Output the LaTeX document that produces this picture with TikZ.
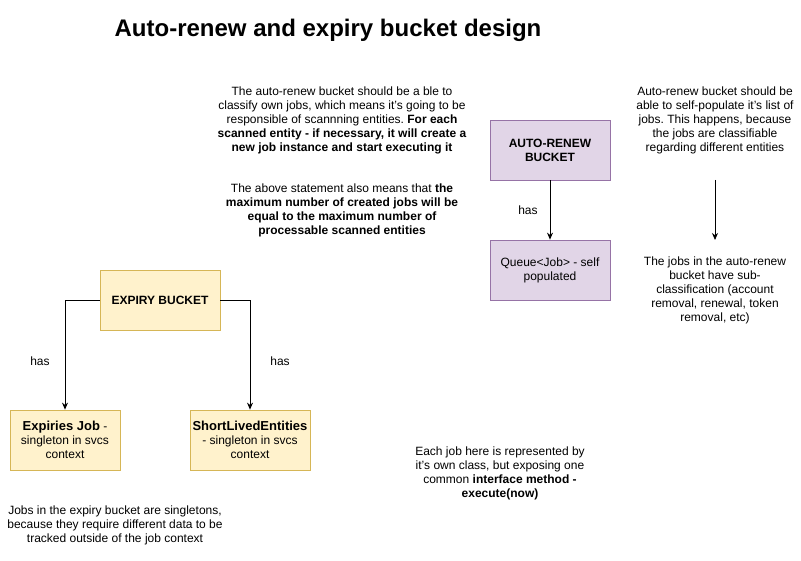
\documentclass[tikz,border=0pt]{standalone}
\usepackage{fontspec}
\setmainfont{Liberation Sans}
\usetikzlibrary{arrows.meta}
\frenchspacing
\begin{document}
\begin{tikzpicture}[x=1pt,y=-1pt,
  every node/.style={font=\fontsize{12}{14}\selectfont, align=center, inner sep=0pt},
  purplebox/.style={draw=pborder, line width=0.75pt, fill={rgb,255:red,225;green,213;blue,231}, minimum width=120pt, minimum height=60pt},
  yellowbox/.style={draw={rgb,255:red,214;green,182;blue,86}, line width=0.75pt, fill={rgb,255:red,255;green,242;blue,204}},
  conn/.style={-{Stealth[length=7pt,width=6pt]}, line width=0.8pt},
  lbl/.style={font=\fontsize{12}{14}\selectfont}]
\useasboundingbox (0,0) rectangle (801,561);
\definecolor{pborder}{RGB}{150,115,166}
\node[font=\bfseries\fontsize{24}{28}\selectfont] (title) at (328,30) {Auto-renew and expiry bucket design};

\node (t1) at (342,120) {The auto-renew bucket should be a ble to\\classify own jobs, which means it's going to be\\responsible of scannning entities. \textbf{For each}\\\textbf{scanned entity - if necessary, it will create a}\\\textbf{new job instance and start executing it}};
\node (t2) at (342,210.5) {The above statement also means that \textbf{the}\\\textbf{maximum number of created jobs will be}\\\textbf{equal to the maximum number of}\\\textbf{processable scanned entities}};

\node[purplebox] (ar) at (550,150) {\textbf{AUTO-RENEW}\\\textbf{BUCKET}};
\node[purplebox] (q) at (550,270) {Queue<Job> - self\\populated};
\draw[conn] (ar) -- (q) node[pos=0.5, left=12pt, lbl] (has1) {has};

\node (t3) at (715,120) {Auto-renew bucket should be\\able to self-populate it's list of\\jobs. This happens, because\\the jobs are classifiable\\regarding different entities};
\coordinate (fa) at (715,180);
\coordinate (fb) at (715,240);
\draw[conn] (fa) -- (fb);
\node (t4) at (715,290) {The jobs in the auto-renew\\bucket have sub-\\classification (account\\removal, renewal, token\\removal, etc)};

\node[yellowbox, minimum width=120pt, minimum height=60pt] (eb) at (160,300) {\textbf{EXPIRY BUCKET}};
\node[yellowbox, minimum width=110pt, minimum height=60pt] (ej) at (65,440) {{\fontsize{13}{14}\selectfont\textbf{Expiries Job}} -\\singleton in svcs\\context};
\node[yellowbox, minimum width=120pt, minimum height=60pt] (sl) at (250,440) {{\fontsize{13}{14}\selectfont\textbf{ShortLivedEntities}}\\- singleton in svcs\\context};
\draw[conn] (eb.west) -| (ej.north);
\draw[conn] (eb.east) -| (sl.north);
\node[lbl] (has2) at (40,361) {has};
\node[lbl] (has3) at (280,361) {has};

\node (t5) at (115,525) {Jobs in the expiry bucket are singletons,\\because they require different data to be\\tracked outside of the job context};
\node (t6) at (500,473) {Each job here is represented by\\it's own class, but exposing one\\common \textbf{interface method -}\\\textbf{execute(now)}};
\end{tikzpicture}
\end{document}
